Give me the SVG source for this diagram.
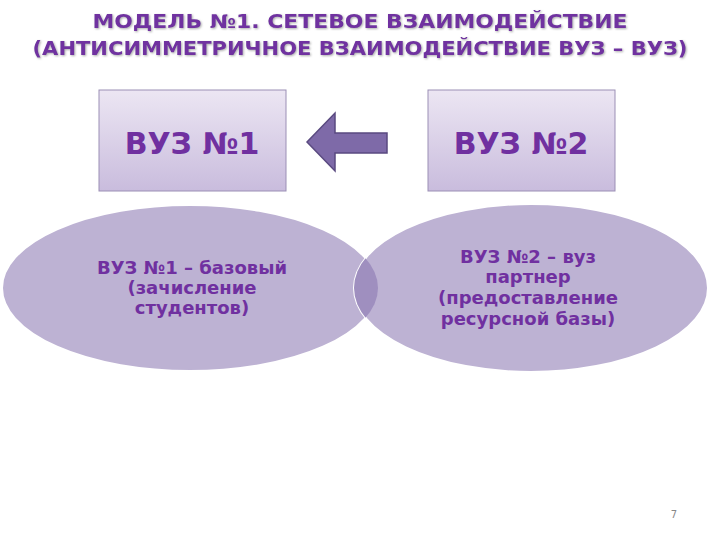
<svg xmlns="http://www.w3.org/2000/svg" width="720" height="540" viewBox="0 0 720 540">
<defs>
<linearGradient id="bg" x1="0" y1="0" x2="0" y2="1"><stop offset="0" stop-color="#ece6f3"/><stop offset="1" stop-color="#c9bcdd"/></linearGradient>
<filter id="sh"><feDropShadow dx="1" dy="1" stdDeviation="0.8" flood-color="#888" flood-opacity="0.7"/></filter>
<clipPath id="cl"><ellipse cx="190" cy="288" rx="188" ry="83"/></clipPath>
</defs>
<style>
text{font-family:"DejaVu Sans",Verdana,sans-serif;font-weight:bold;fill:#7030a0;text-anchor:middle}
.t{font-size:19px;filter:url(#sh)}
.b{font-size:30px}
.e{font-size:18px}
.box{fill:url(#bg);stroke:#9b8fb5;stroke-width:1}
.ell{fill:#bdb2d3;stroke:#fff;stroke-width:2}
</style>
<rect width="720" height="540" fill="#fff"/>
<g id="title">
<text class="t" x="360" y="28" textLength="535" lengthAdjust="spacingAndGlyphs">МОДЕЛЬ №1. СЕТЕВОЕ ВЗАИМОДЕЙСТВИЕ</text>
<text class="t" x="360" y="55" textLength="655" lengthAdjust="spacingAndGlyphs">(АНТИСИММЕТРИЧНОЕ ВЗАИМОДЕЙСТВИЕ ВУЗ – ВУЗ)</text>
</g>
<g id="vuz1"><rect class="box" x="99" y="90" width="187" height="101"/><text class="b" x="192" y="154">ВУЗ №1</text></g>
<g id="vuz2"><rect class="box" x="428" y="90" width="187" height="101"/><text class="b" x="521" y="154">ВУЗ №2</text></g>
<g id="connectors"><polygon points="307,142 335,113 335,133 387,133 387,153 335,153 335,171" fill="#7e6aa8" stroke="#5a4a80" stroke-width="1.5"/></g>
<g id="ell1"><ellipse class="ell" cx="190" cy="288" rx="188" ry="83" stroke="none"/>
<text class="e" x="192" y="274">ВУЗ №1 – базовый</text><text class="e" x="192" y="294">(зачисление</text><text class="e" x="192" y="314">студентов)</text></g>
<g id="ell2"><ellipse class="ell" cx="531" cy="288" rx="177" ry="84"/>
<ellipse cx="531" cy="288" rx="177" ry="84" fill="#9f8fbf" clip-path="url(#cl)"/>
<text class="e" x="528" y="263">ВУЗ №2 – вуз</text><text class="e" x="528" y="283">партнер</text><text class="e" x="528" y="304">(предоставление</text><text class="e" x="528" y="325">ресурсной базы)</text></g>
<text x="674" y="518" style="font-size:10px;font-weight:normal;fill:#888">7</text>
</svg>
